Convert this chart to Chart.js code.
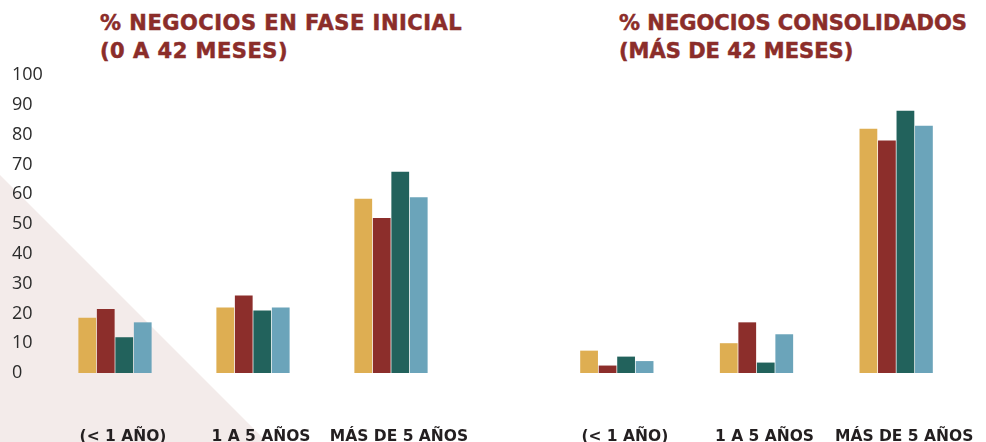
<!DOCTYPE html>
<html>
<head>
<meta charset="utf-8">
<script src="https://cdn.jsdelivr.net/npm/chart.js@4/dist/chart.umd.min.js"></script>
<style>
  html, body { margin: 0; padding: 0; background: #fff; }
  #wrap { position: relative; width: 986px; height: 442px; overflow: hidden; }
  #corner {
    position: absolute; left: 0; top: 0; width: 986px; height: 442px;
    background: #F3EBEA;
    clip-path: polygon(0 175px, 267px 442px, 0 442px);
  }
  .title {
    position: absolute; top: 9px;
    font-family: 'DejaVu Sans', sans-serif; font-weight: bold;
    font-size: 21px; line-height: 28px; letter-spacing: 0.5px;
    color: #8B2D2A; white-space: nowrap;
    -webkit-text-stroke: 0.5px #8B2D2A;
  }
  #boxA { position: absolute; left: 0; top: 0; width: 500px; height: 442px; }
  #boxB { position: absolute; left: 500px; top: 0; width: 486px; height: 442px; }
</style>
</head>
<body>
<div id="wrap">
  <div id="corner"></div>
  <div class="title" style="left:100px">% NEGOCIOS EN FASE INICIAL<br>(0 A 42 MESES)</div>
  <div class="title" style="left:619px; letter-spacing:0">% NEGOCIOS CONSOLIDADOS<br>(MÁS DE 42 MESES)</div>
  <div id="boxA"><canvas id="chartA"></canvas></div>
  <div id="boxB"><canvas id="chartB"></canvas></div>
</div>
<script>
// ===============================
// DATA
// ===============================
const categories = ['(< 1 AÑO)', '1 A 5 AÑOS', 'MÁS DE 5 AÑOS'];
const seriesNames = ['Serie 1', 'Serie 2', 'Serie 3', 'Serie 4'];
const seriesColors = ['#DEAE52', '#8C2E2B', '#22625C', '#6BA4BA'];

// % negocios en fase inicial (0 a 42 meses)
const inicial1 = [18.5, 22, 58.5];
const inicial2 = [21.5, 26, 52];
const inicial3 = [12, 21, 67.5];
const inicial4 = [17, 22, 59];

// % negocios consolidados (más de 42 meses)
const consolidado1 = [7.5, 10, 82];
const consolidado2 = [2.5, 17, 78];
const consolidado3 = [5.5, 3.5, 88];
const consolidado4 = [4, 13, 83];

const yTicks = [0, 10, 20, 30, 40, 50, 60, 70, 80, 90, 100];

// ===============================
// CHARTS
// ===============================
function buildDatasets(values, catPct) {
  return values.map((data, i) => ({
    label: seriesNames[i],
    data: data,
    backgroundColor: seriesColors[i],
    borderWidth: 0,
    categoryPercentage: catPct,
    barPercentage: 0.96
  }));
}

const labelFont = { family: "'DejaVu Sans', sans-serif", size: 15.5, weight: 'bold' };

function xAxis() {
  return {
    grid: { display: false, drawTicks: false },
    border: { display: false },
    ticks: { color: '#231F20', font: labelFont, padding: 55, labelOffset: 8, maxRotation: 0, autoSkip: false },
    afterFit: scale => {
      // keep the wide labels from squeezing the plot area
      scale.height = 69;
      scale.paddingLeft = 0;
      scale.paddingRight = 0;
    }
  };
}

function initializeCharts() {
  new Chart(document.getElementById('chartA'), {
    type: 'bar',
    data: {
      labels: categories,
      datasets: buildDatasets([inicial1, inicial2, inicial3, inicial4], 0.536)
    },
    options: {
      responsive: true,
      maintainAspectRatio: false,
      animation: false,
      layout: { padding: { left: 12, right: 40, top: 75, bottom: 0 } },
      plugins: { legend: { display: false } },
      scales: {
        x: xAxis(),
        y: {
          min: 0,
          max: 100,
          grid: { display: false, drawTicks: false },
          border: { display: false },
          afterBuildTicks: scale => { scale.ticks = yTicks.map(v => ({ value: v })); },
          afterFit: scale => { scale.width = 34; },
          ticks: {
            crossAlign: 'far',
            color: '#2B2B2B',
            font: { family: "'Open Sans', sans-serif", size: 18 }
          }
        }
      }
    }
  });

  new Chart(document.getElementById('chartB'), {
    type: 'bar',
    data: {
      labels: categories,
      datasets: buildDatasets([consolidado1, consolidado2, consolidado3, consolidado4], 0.53)
    },
    options: {
      responsive: true,
      maintainAspectRatio: false,
      animation: false,
      layout: { padding: { left: 47, right: 20, top: 75, bottom: 0 } },
      plugins: { legend: { display: false } },
      scales: {
        x: xAxis(),
        y: { display: false, min: 0, max: 100 }
      }
    }
  });
}

initializeCharts();
</script>
</body>
</html>
